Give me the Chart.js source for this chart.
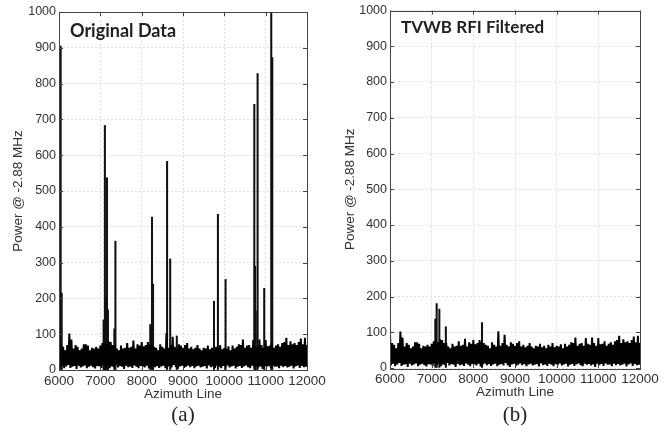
<!DOCTYPE html>
<html>
<head>
<meta charset="utf-8">
<script src="https://cdn.jsdelivr.net/npm/chart.js@4.4.1/dist/chart.umd.min.js"></script>
<style>
  body { margin: 0; background: #fff; width: 665px; height: 431px; position: relative; overflow: hidden; }
  .wrap { position: absolute; top: 0; }
  .lbl { position: absolute; font-family: "Lato"; font-weight: bold; font-size: 18px; line-height: 18px; color: #222; white-space: nowrap; }
  .cap { position: absolute; font-family: "Liberation Serif"; font-size: 21px; line-height: 21px; color: #222; width: 60px; text-align: center; }
</style>
</head>
<body>
<div class="wrap" style="left:0;width:332px;height:405px"><canvas id="chartA" width="332" height="405"></canvas></div>
<div class="wrap" style="left:332px;width:333px;height:403px"><canvas id="chartB" width="333" height="403"></canvas></div>
<div class="lbl" style="left:70px;top:21px">Original Data</div>
<div class="lbl" style="left:401px;top:18px;font-size:17px">TVWB RFI Filtered</div>
<div class="cap" style="left:153px;top:404px">(a)</div>
<div class="cap" style="left:485px;top:404px">(b)</div>
<script>
// azimuth grid of the background noise
const azStart = 6000;
const noiseStep = 50;

// upper envelope of the noise, one value every 50 azimuth lines (6000..12000)
const noiseHigh = [
  95, 70, 65, 55, 70, 102, 85, 60, 70, 65,
  55, 60, 72, 72, 68, 55, 62, 60, 65, 60,
  68, 75, 78, 72, 80, 78, 70, 70, 60, 55,
  68, 60, 62, 75, 62, 65, 82, 60, 72, 68,
  78, 66, 70, 78, 72, 70, 65, 62, 55, 72,
  65, 60, 103, 62, 70, 93, 65, 60, 72, 68,
  62, 70, 75, 60, 65, 58, 62, 70, 60, 55,
  62, 60, 68, 58, 62, 55, 65, 60, 70, 58,
  62, 60, 66, 55, 68, 60, 65, 72, 70, 85,
  62, 68, 70, 62, 84, 68, 65, 85, 70, 62,
  84, 66, 68, 75, 62, 68, 72, 65, 75, 78,
  90, 70, 80, 72, 75, 70, 78, 88, 72, 90,
  70
];

// lower envelope, halfway between the high samples (6025..11975)
const noiseLow = [
  8, 12, 5, 10, 14, 6, 9, 11, 3, 12,
  7, 10, 13, 5, 9, 12, 8, 4, 11, 10,
  6, 13, 9, 12, 5, 10, 8, 14, 7, 11,
  9, 3, 12, 8, 10, 6, 13, 9, 5, 11,
  10, 7, 12, 4, 9, 13, 8, 11, 6, 10,
  12, 5, 9, 11, 7, 14, 8, 3, 10, 12,
  6, 9, 13, 8, 11, 5, 10, 12, 7, 9,
  11, 4, 13, 8, 10, 6, 12, 9, 5, 11,
  8, 13, 7, 10, 12, 4, 9, 11, 6, 10,
  13, 8, 5, 12, 9, 11, 7, 10, 3, 12,
  8, 11, 6, 13, 9, 10, 5, 12, 8, 11,
  7, 9, 12, 4, 10, 13, 6, 11, 8, 9
];

// peaks that survive the filter (present in both panels)
const residualX = [7088, 7120, 7184, 7340, 8208];
const residualY = [137, 180, 165, 115, 127];

// RFI spikes only in the original data
const rfiX = [6040, 6065, 7080, 7110, 7132, 7148, 7160, 7175, 7365, 8250, 8275, 8615, 8690, 8850,
              9750, 9845, 10030, 10725, 10745, 10760, 10805, 10965, 11135, 11160];
const rfiY = [905, 215, 140, 683, 200, 205, 537, 170, 360, 427, 240, 583, 310, 95,
              192, 435, 253, 742, 290, 165, 828, 228, 1100, 873];

const xTicks = { min: 6000, max: 12000, step: 1000 };
const yTicks = { min: 0, max: 1000, step: 100 };

function buildNoise() {
  const pts = [];
  noiseHigh.forEach((v, i) => {
    pts.push({ x: azStart + i * noiseStep, y: v });
    if (i < noiseLow.length) pts.push({ x: azStart + i * noiseStep + noiseStep / 2, y: noiseLow[i] });
  });
  return pts;
}

function buildSpikes(withRfi) {
  const pts = residualX.map((x, i) => ({ x: x, y: residualY[i] }));
  if (withRfi) rfiX.forEach((x, i) => pts.push({ x: x, y: rfiY[i] }));
  pts.sort((a, b) => a.x - b.x);
  return pts;
}

// MATLAB style box with inward ticks
const boxPlugin = {
  id: 'box',
  afterDatasetsDraw(chart) {
    const { ctx, chartArea: a, scales } = chart;
    ctx.save();
    ctx.strokeStyle = '#444';
    ctx.lineWidth = 1;
    ctx.strokeRect(Math.round(a.left) + 0.5, Math.round(a.top) + 0.5,
                   Math.round(a.right - a.left), Math.round(a.bottom - a.top));
    ctx.beginPath();
    scales.x.ticks.forEach(t => {
      const px = Math.round(scales.x.getPixelForValue(t.value)) + 0.5;
      ctx.moveTo(px, a.bottom); ctx.lineTo(px, a.bottom - 4);
      ctx.moveTo(px, a.top); ctx.lineTo(px, a.top + 4);
    });
    scales.y.ticks.forEach(t => {
      const py = Math.round(scales.y.getPixelForValue(t.value)) + 0.5;
      ctx.moveTo(a.left, py); ctx.lineTo(a.left + 4, py);
      ctx.moveTo(a.right, py); ctx.lineTo(a.right - 4, py);
    });
    ctx.stroke();
    ctx.restore();
  }
};

function makeChart(id, withRfi, padTop, yWidth) {
  const tickFont = { family: 'Liberation Sans', size: 12.5 };
  const titleFont = { family: 'Liberation Sans', size: 13.5 };
  return new Chart(document.getElementById(id), {
    type: 'line',
    data: {
      datasets: [{
        type: 'line',
        data: buildNoise(),
        borderColor: '#000',
        borderWidth: 2,
        borderJoinStyle: 'bevel',
        pointRadius: 0,
        tension: 0
      }, {
        type: 'bar',
        data: buildSpikes(withRfi),
        backgroundColor: '#111',
        borderWidth: 0,
        barThickness: 1.4
      }]
    },
    options: {
      responsive: false,
      animation: false,
      devicePixelRatio: 1,
      layout: { padding: { top: padTop, right: 25, left: 0, bottom: 0 } },
      plugins: { legend: { display: false }, tooltip: { enabled: false } },
      scales: {
        x: {
          type: 'linear',
          offset: false,
          min: xTicks.min,
          max: xTicks.max,
          afterFit: s => { s.height = 35; },
          ticks: { stepSize: xTicks.step, padding: 3, color: '#333', font: { family: 'Liberation Sans', size: 13.5 },
                   maxRotation: 0, callback: v => String(v) },
          grid: { color: '#e0e0e0', drawTicks: false, offset: false },
          border: { display: false, dash: [2, 2] },
          title: { display: true, text: 'Azimuth Line', color: '#333', font: titleFont, padding: { top: 0, bottom: 3 } }
        },
        y: {
          min: yTicks.min,
          max: yTicks.max,
          afterFit: s => { s.width = yWidth; },
          ticks: { stepSize: yTicks.step, padding: 3, color: '#333', font: tickFont, callback: v => String(v) },
          grid: { color: '#e0e0e0', drawTicks: false },
          border: { display: false, dash: [2, 2] },
          title: { display: true, text: 'Power @ -2.88 MHz', color: '#333', font: titleFont, padding: { top: 10, bottom: 0 } }
        }
      }
    },
    plugins: [boxPlugin]
  });
}

makeChart('chartA', true, 12, 59);
makeChart('chartB', false, 10, 58);
</script>
</body>
</html>
